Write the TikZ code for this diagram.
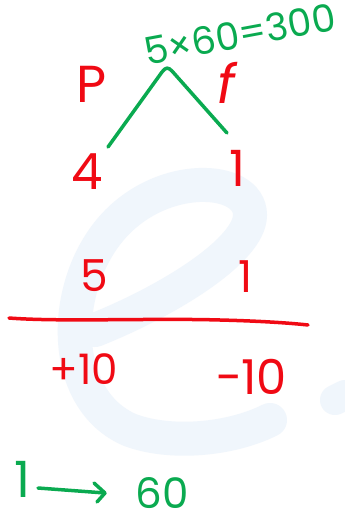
\documentclass[tikz,border=0pt]{standalone}
\usepackage{fontspec}
\setmainfont{Poppins}
\definecolor{hred}{RGB}{240,10,20}
\definecolor{hgreen}{RGB}{10,170,80}
\definecolor{wm}{RGB}{240,246,252}
\begin{document}
\begin{tikzpicture}[x=1pt,y=-1pt,
  rtxt/.style={text=hred,inner sep=0pt,font=\fontsize{44}{48}\selectfont},
  gtxt/.style={text=hgreen,inner sep=0pt,font=\fontsize{38}{42}\selectfont},
  gline/.style={draw=hgreen,line width=3.5pt,line cap=round,line join=round},
  rline/.style={draw=hred,line width=3.5pt,line cap=round}]
\useasboundingbox[fill=white] (0,0) rectangle (345,519);
% faint watermark
\draw[wm,line width=34pt,line cap=round] (95,330) .. controls (170,300) and (250,250) .. (250,215)
  .. controls (250,175) and (160,170) .. (110,230) .. controls (60,290) and (60,400) .. (130,430)
  .. controls (170,445) and (230,440) .. (270,420);
\draw[wm,line width=30pt,line cap=round] (335,400) -- (345,395);
% labels
\node[rtxt,font=\fontsize{52}{56}\selectfont] (P) at (92,84) {P};
\node[rtxt,font=\fontsize{54}{58}\selectfont\itshape] (f) at (226,83) {f};
\node[gtxt,rotate=10.5] (eq) at (240,34) {5×60=300};
\coordinate (la) at (108,147);
\coordinate (rb) at (227,133);
\draw[gline] (la) -- (162,72) .. controls (166,67) and (168,67) .. (172,71) -- (rb);
\node[rtxt,font=\fontsize{50}{54}\selectfont] (four) at (87,172) {4};
\node[rtxt,font=\fontsize{50}{54}\selectfont] (one) at (237,168) {1};
\node[rtxt] (five) at (94,276) {5};
\node[rtxt] (one2) at (246,277) {1};
\coordinate (ls) at (9,318);
\coordinate (le) at (308,325);
\draw[rline] (ls) .. controls (60,322) and (150,318) .. (220,320) .. controls (260,321) and (290,323) .. (le);
\node[rtxt,font=\fontsize{42}{46}\selectfont] (p10) at (84,369) {+10};
\node[rtxt,font=\fontsize{48}{52}\selectfont] (m10) at (251,377) {−10};
\node[gtxt,font=\fontsize{50}{54}\selectfont] (g1) at (22,479) {1};
\node[gtxt,font=\fontsize{42}{46}\selectfont] (sixty) at (162,493) {60};
\coordinate (as) at (38,488);
\coordinate (ae) at (105,493);
\draw[gline] (as) -- (ae);
\draw[gline] (94,483) -- (ae) -- (97,502);
\end{tikzpicture}
\end{document}
